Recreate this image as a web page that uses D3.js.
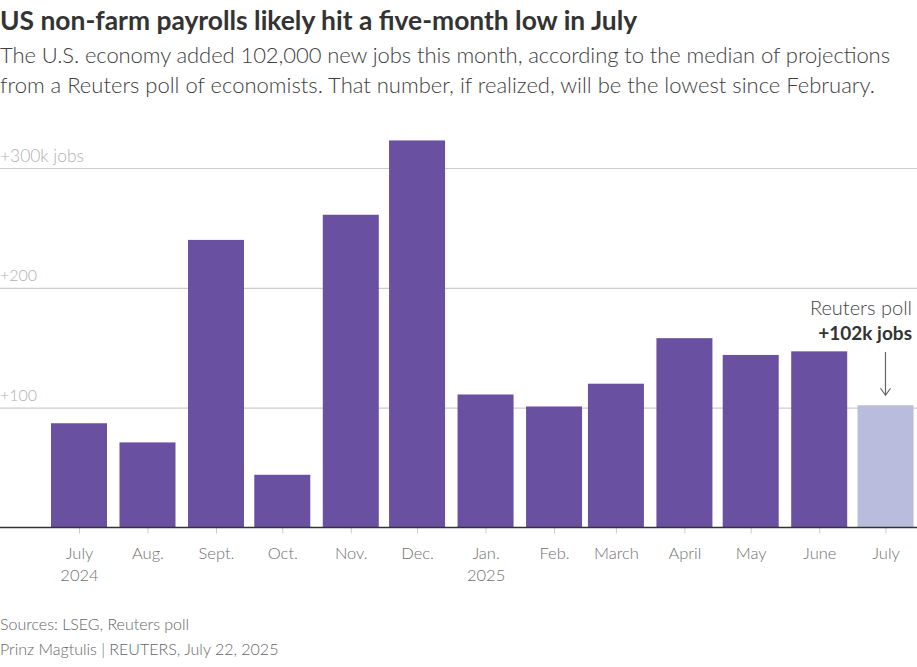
<!DOCTYPE html>
<html>
<head>
<meta charset="utf-8">
<script src="https://cdn.jsdelivr.net/npm/d3@7"></script>
<style>
  html, body { margin: 0; padding: 0; background: #fff; }
  svg { display: block; }
  text { font-family: Lato, "Noto Sans", sans-serif; }
  .domain { display: none; }
</style>
</head>
<body>
<svg id="chart"></svg>
<script>
// values, thousands of jobs
const months = ["2024-07-01", "2024-08-01", "2024-09-01", "2024-10-01", "2024-11-01", "2024-12-01",
  "2025-01-01", "2025-02-01", "2025-03-01", "2025-04-01", "2025-05-01", "2025-06-01", "2025-07-01"];
const jobs = [87, 71, 240, 44, 261, 323, 111, 101, 120, 158, 144, 147, 102];
const monthLabels = [["July", "2024"], ["Aug."], ["Sept."], ["Oct."], ["Nov."], ["Dec."],
  ["Jan.", "2025"], ["Feb."], ["March"], ["April"], ["May"], ["June"], ["July"]];
const yTicks = [100, 200, 300];
const yTickLabels = ["+100", "+200", "+300k jobs"];
const pollIndex = 12;

const width = 917, height = 667;
const svg = d3.select("#chart").attr("width", width).attr("height", height);
const parse = d3.utcParse("%Y-%m-%d");
const dates = months.map(parse);

const x = d3.scaleUtc().domain([dates[0], dates[12]]).range([79, 885.5]);
const y = d3.scaleLinear().domain([0, 300]).range([527.5, 168]);
const barWidth = 56;

// header
svg.append("text").attr("x", 0).attr("y", 30)
  .attr("font-size", 26.4).attr("font-weight", 700).attr("fill", "#333")
  .text("US non-farm payrolls likely hit a five-month low in July");
const sub = ["The U.S. economy added 102,000 new jobs this month, according to the median of projections",
  "from a Reuters poll of economists. That number, if realized, will be the lowest since February."];
const subWidths = [890, 875];
svg.selectAll(".sub").data(sub).enter().append("text")
  .attr("x", 0).attr("y", (d, i) => 63 + i * 30)
  .attr("textLength", (d, i) => subWidths[i])
  .attr("font-size", 22).attr("font-weight", 300).attr("fill", "#404040")
  .text(d => d);

// gridlines and y labels
const yAxis = d3.axisLeft(y).tickValues(yTicks).tickSize(-width).tickFormat((d, i) => yTickLabels[i]);
const yG = svg.append("g").call(yAxis);
yG.selectAll(".tick line").attr("stroke", "#ccc").attr("stroke-width", 1.2);
yG.selectAll(".tick text")
  .attr("x", 0).attr("dy", -6).attr("text-anchor", "start")
  .attr("font-size", d => d === 300 ? 17.4 : 16).attr("font-weight", 300).attr("fill", "#b0b0b0")
  .attr("dominant-baseline", "auto")
  .attr("transform", "translate(0,-1)");

// bars
svg.selectAll(".bar").data(jobs).enter().append("rect")
  .attr("x", (d, i) => x(dates[i]) - barWidth / 2)
  .attr("y", d => y(d))
  .attr("width", barWidth)
  .attr("height", d => y(0) - y(d))
  .attr("fill", (d, i) => i === pollIndex ? "#b9bcdc" : "#6950a1");

// x axis
const xAxis = d3.axisBottom(x).tickValues(dates).tickSize(6).tickFormat("");
const xG = svg.append("g").attr("transform", `translate(0,${y(0)})`).call(xAxis);
xG.selectAll(".tick line").attr("stroke", "#ccc");
xG.selectAll(".tick").each(function(d, i) {
  const t = d3.select(this).append("text")
    .attr("text-anchor", "middle").attr("font-size", 16.5).attr("font-weight", 300).attr("fill", "#707070");
  monthLabels[i].forEach((s, j) => t.append("tspan").attr("x", 0).attr("y", 31 + j * 22).text(s));
});
svg.append("line").attr("x1", 0).attr("x2", width).attr("y1", y(0)).attr("y2", y(0))
  .attr("stroke", "#333").attr("stroke-width", 1.3);

// poll annotation
svg.append("text").attr("x", 912).attr("y", 315).attr("text-anchor", "end")
  .attr("font-size", 20).attr("font-weight", 300).attr("fill", "#444").text("Reuters poll");
svg.append("text").attr("x", 912).attr("y", 340).attr("text-anchor", "end")
  .attr("font-size", 19).attr("font-weight", 700).attr("fill", "#333").text("+102k jobs");
const ax = x(dates[pollIndex]);
const arrowTop = 352, arrowEnd = y(jobs[pollIndex]) - 10;
svg.append("path")
  .attr("d", d3.line()([[ax, arrowTop], [ax, arrowEnd]]) + d3.line()([[ax - 5, arrowEnd - 7], [ax, arrowEnd], [ax + 5, arrowEnd - 7]]))
  .attr("fill", "none").attr("stroke", "#666").attr("stroke-width", 1.2);

// footer
const footer = ["Sources: LSEG, Reuters poll", "Prinz Magtulis | REUTERS, July 22, 2025"];
svg.selectAll(".foot").data(footer).enter().append("text")
  .attr("x", 0).attr("y", (d, i) => 630 + i * 25)
  .attr("font-size", 16).attr("font-weight", 300).attr("fill", "#666")
  .text(d => d);
</script>
</body>
</html>
